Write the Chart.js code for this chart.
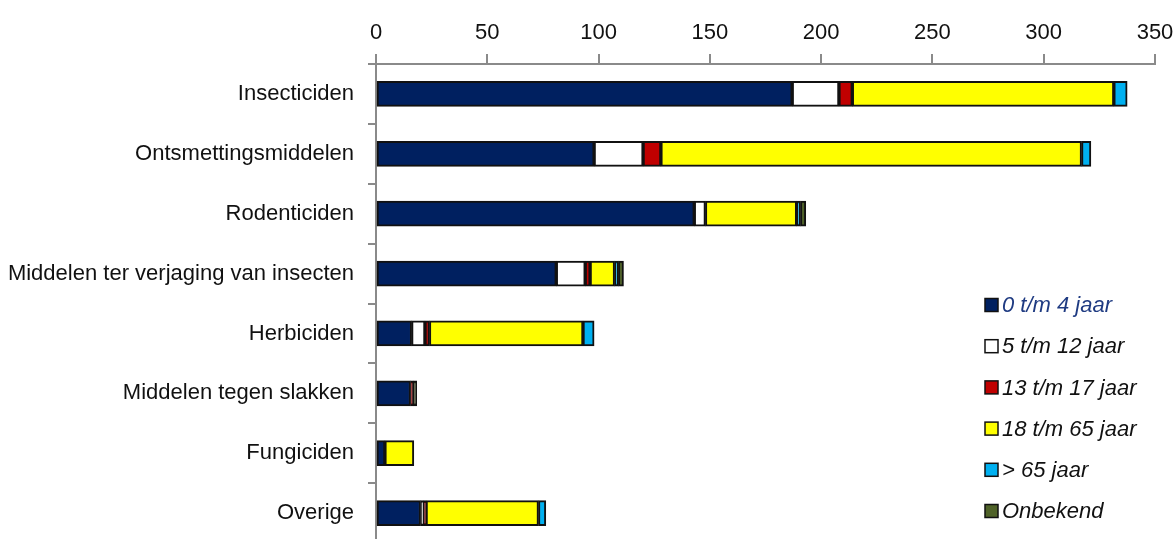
<!DOCTYPE html>
<html>
<head>
<meta charset="utf-8">
<script src="https://cdn.jsdelivr.net/npm/chart.js@4"></script>
<style>
  html, body { margin: 0; padding: 0; background: #fff; overflow: hidden; }
  canvas { display: block; }
</style>
</head>
<body>
<!-- canvas a few px taller than the window: the original's plot area runs past the bottom edge -->
<canvas id="chart" width="1176" height="543"></canvas>
<script>
const categories = ['Insecticiden', 'Ontsmettingsmiddelen', 'Rodenticiden', 'Middelen ter verjaging van insecten',
  'Herbiciden', 'Middelen tegen slakken', 'Fungiciden', 'Overige'];
const seriesNames = ['0 t/m 4 jaar', '5 t/m 12 jaar', '13 t/m 17 jaar', '18 t/m 65 jaar', '> 65 jaar', 'Onbekend'];
const age0to4 = [187, 98, 143, 81, 16, 15.5, 4, 20];
const age5to12 = [21, 22, 5, 13, 6, 0, 0, 1.5];
const age13to17 = [6, 8, 0, 2.2, 2, 1.2, 0, 1];
const age18to65 = [117.5, 189, 41, 11, 69, 0, 13, 50.5];
const age65plus = [6, 4.2, 1.7, 1.7, 5, 0, 0, 3.3];
const unknown = [0, 0, 2.4, 2.3, 0, 1.6, 0, 0];
const xTicks = [0, 50, 100, 150, 200, 250, 300, 350];

const colors = ['#002060', '#ffffff', '#c00000', '#ffff00', '#00b0f0', '#4f6228'];
const seriesValues = [age0to4, age5to12, age13to17, age18to65, age65plus, unknown];

const axisGray = '#8a8a8a';

// legend drawn by hand so it can sit inside the plot area, bottom right
const legendPlugin = {
  id: 'insideLegend',
  afterDraw(chart) {
    const ctx = chart.ctx;
    ctx.save();
    ctx.font = 'italic 22px "Liberation Sans", Arial, sans-serif';
    ctx.textBaseline = 'middle';
    chart.data.datasets.forEach((ds, i) => {
      const y = 305 + i * 41.2;
      ctx.fillStyle = ds.backgroundColor;
      ctx.fillRect(985, y - 6.5, 13, 13);
      ctx.strokeStyle = '#111';
      ctx.lineWidth = 1.5;
      ctx.strokeRect(985, y - 6.5, 13, 13);
      ctx.fillStyle = i === 0 ? '#1f3b82' : '#111';
      ctx.fillText(ds.label, 1002, y + 1);
    });
    ctx.restore();
  }
};

new Chart(document.getElementById('chart'), {
  type: 'bar',
  data: {
    labels: categories,
    datasets: seriesNames.map((name, i) => ({
      label: name,
      data: seriesValues[i],
      backgroundColor: colors[i],
      borderColor: '#111',
      borderWidth: 2,
      borderSkipped: false,
      barThickness: 25,
    })),
  },
  options: {
    indexAxis: 'y',
    responsive: false,
    animation: false,
    layout: { padding: { left: 0, right: 21, top: 0, bottom: 0 } },
    plugins: {
      legend: { display: false },
      tooltip: { enabled: false },
    },
    scales: {
      x: {
        position: 'top',
        stacked: true,
        min: 0,
        max: 350,
        afterBuildTicks(scale) { scale.ticks = xTicks.map(v => ({ value: v })); },
        afterFit(scale) {
          scale.height = 64;
          scale.paddingLeft = 0;
          scale.paddingRight = 0;
        },
        grid: { drawOnChartArea: false, color: axisGray, lineWidth: 2, tickLength: 10 },
        border: { color: axisGray, width: 2 },
        ticks: {
          color: '#111',
          padding: 8,
          font: { family: '"Liberation Sans", Arial, sans-serif', size: 22 },
        },
      },
      y: {
        stacked: true,
        afterFit(scale) {
          scale.width = 376;
          scale.paddingTop = 0;
          scale.paddingBottom = 0;
        },
        grid: { drawOnChartArea: false, color: axisGray, lineWidth: 2, tickLength: 8, offset: true },
        border: { color: axisGray, width: 2 },
        ticks: {
          color: '#111',
          padding: 14,
          font: { family: '"Liberation Sans", Arial, sans-serif', size: 22 },
        },
      },
    },
  },
  plugins: [legendPlugin],
});
</script>
</body>
</html>
